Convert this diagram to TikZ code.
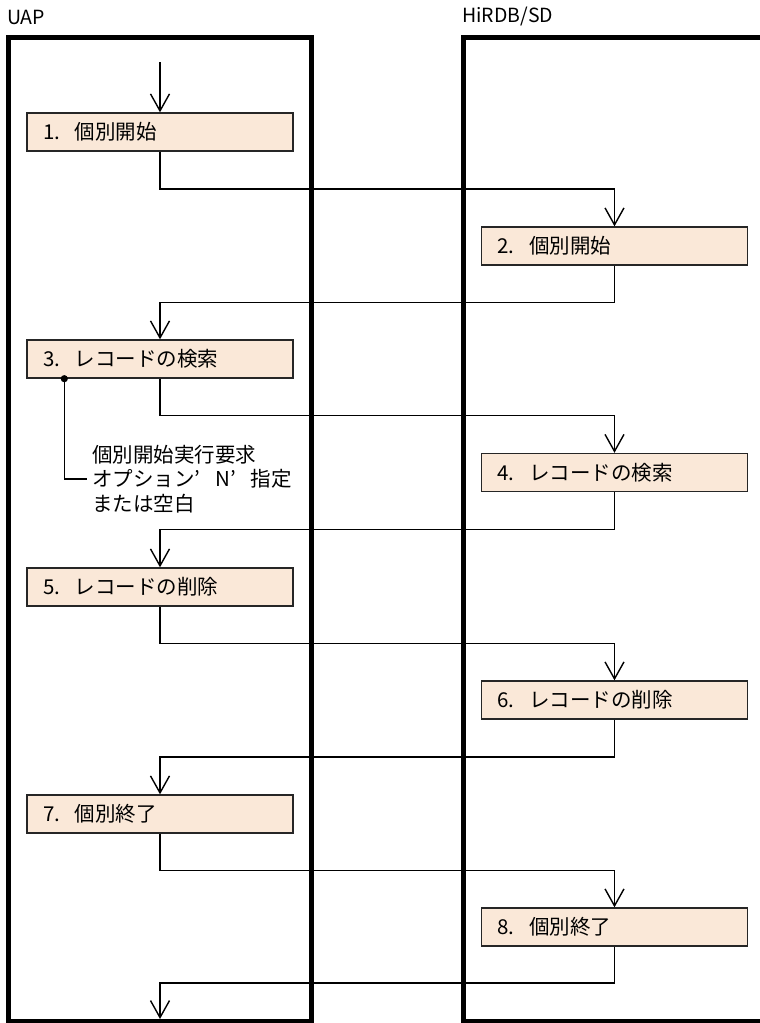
\documentclass[tikz,border=0pt]{standalone}
\usepackage{fontspec}
\setmainfont{Noto Sans CJK JP}
\usetikzlibrary{arrows.meta,calc}
\definecolor{boxfill}{RGB}{250,232,216}
\begin{document}
\begin{tikzpicture}[x=1pt,y=-1pt,
  lane/.style={draw, line width=5pt},
  stepbox/.style={draw=black!85, line width=1.4pt, fill=boxfill,
    minimum width=266pt, minimum height=38pt, inner sep=0pt,
    text width=234pt, align=left, font=\fontsize{20.5}{24}\selectfont},
  flow/.style={line width=1.4pt, -{Straight Barb[length=17pt,width=19pt]}},
  conn/.style={line width=1.4pt},
  lbl/.style={inner sep=0pt, font=\fontsize{19.5}{24}\selectfont}]
\useasboundingbox (0,0) rectangle (760,1023);
\clip (0,0) rectangle (760,1023);
% lanes
\draw[lane] (8,37) rectangle (311,1021);
\draw[lane] (790,37) -- (463.5,37) -- (463.5,1021) -- (790,1021);
\node[lbl, anchor=west] (uaplabel) at (7,17) {UAP};
\node[lbl, anchor=west] (sdlabel) at (462,17) {HiRDB/SD};
% boxes
\node[stepbox] (b1) at (160,132) {\makebox[32pt][l]{1.}個別開始};
\node[stepbox] (b2) at (614.5,246) {\makebox[32pt][l]{2.}個別開始};
\node[stepbox] (b3) at (160,359) {\makebox[32pt][l]{3.}レコードの検索};
\node[stepbox] (b4) at (614.5,472.5) {\makebox[32pt][l]{4.}レコードの検索};
\node[stepbox] (b5) at (160,587) {\makebox[32pt][l]{5.}レコードの削除};
\node[stepbox] (b6) at (614.5,700) {\makebox[32pt][l]{6.}レコードの削除};
\node[stepbox] (b7) at (160,814) {\makebox[32pt][l]{7.}個別終了};
\node[stepbox] (b8) at (614.5,927) {\makebox[32pt][l]{8.}個別終了};
% flow
\coordinate (start) at (160,62);
\coordinate (end) at (160,1019);
\draw[flow] (start) -- (b1.north);
\foreach \a/\b in {b1/b2,b2/b3,b3/b4,b4/b5,b5/b6,b6/b7,b7/b8}{
  \draw[flow] (\a.south) |- ($(\a.south)!.5!(\b.north)$) -| (\b.north);
}
\draw[flow] (b8.south) |- ($(b8.south)!.5!(end)$) -| (end);
% annotation
\node[lbl, anchor=west, align=left, font=\fontsize{20.5}{24.5}\selectfont] (note) at (92,479)
  {個別開始実行要求\\オプション\makebox[1em][l]{’}N\makebox[1em][l]{’}指定\\または空白};
\coordinate (dot) at ($(b3.south west)+(38,0)$);
\fill (dot) circle (3.6);
\draw[conn] (dot) |- ($(note.west)+(-5,0)$);
\end{tikzpicture}
\end{document}
